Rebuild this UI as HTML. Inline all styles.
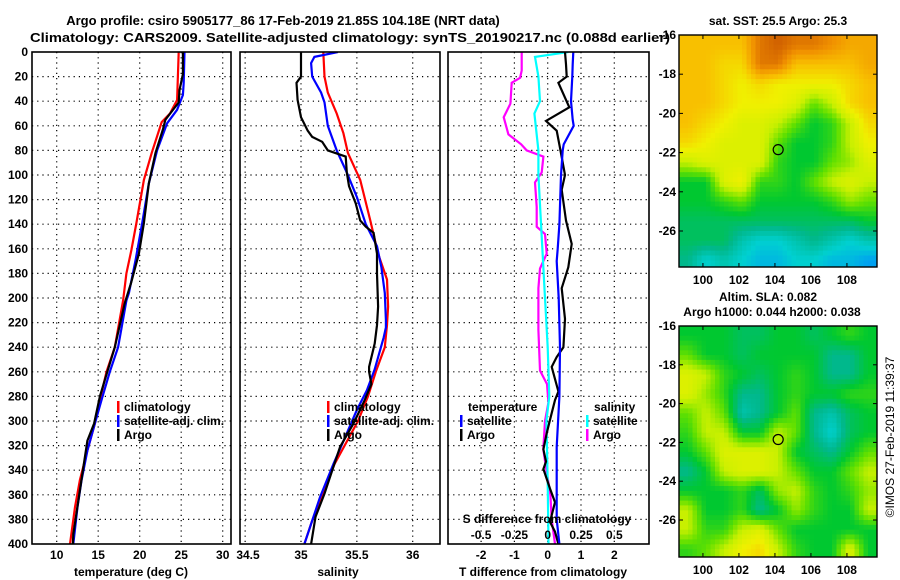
<!DOCTYPE html>
<html><head><meta charset="utf-8"><style>
html,body{margin:0;padding:0;background:#fff;}
svg{display:block;font-family:"Liberation Sans",sans-serif;font-weight:bold;}
</style></head><body>
<svg id="chart" width="900" height="580" viewBox="0 0 900 580" xmlns="http://www.w3.org/2000/svg">
<text x="283" y="25" text-anchor="middle" font-size="13">Argo profile: csiro 5905177_86 17-Feb-2019 21.85S 104.18E (NRT data)</text>
<text x="30" y="42" font-size="13" textLength="640" lengthAdjust="spacingAndGlyphs">Climatology: CARS2009. Satellite-adjusted climatology: synTS_20190217.nc (0.088d earlier)</text>
<text x="778" y="25" text-anchor="middle" font-size="12">sat. SST: 25.5 Argo: 25.3</text>
<text x="768" y="301" text-anchor="middle" font-size="12">Altim. SLA: 0.082</text>
<text x="772" y="316" text-anchor="middle" font-size="12">Argo h1000: 0.044 h2000: 0.038</text>
<text transform="translate(894,437) rotate(-90)" text-anchor="middle" font-size="12" font-weight="normal">©IMOS 27-Feb-2019 11:39:37</text>
<g id="plots"></g>
</svg>
<script>
// ---- temperature panel data ----
const tDepthClim = [0,39,50,57,82,104,139,161,180,202,240,260,283,302,324,348,370,400];
const tClim = [24.7,24.5,23.65,22.65,21.45,20.5,19.6,19.0,18.4,18.0,17.0,16.0,15.2,14.6,13.7,12.8,12.2,11.6];
const tDepthSat = [0,25,35,47,58,80,107,139,169,196,202,240,260,283,302,324,348,370,400];
const tSat = [25.4,25.3,25.2,24.5,23.3,22.1,21.1,20.3,19.5,18.7,18.4,17.4,16.4,15.4,14.6,13.7,13.0,12.5,12.0];
const tDepthArgo = [0,18,31,41,55,63,82,107,139,164,188,204,240,260,280,302,316,338,365,392,400];
const tArgo = [25.2,25.2,24.8,24.7,23.1,22.8,21.9,21.1,20.5,19.9,18.95,18.2,17.0,16.1,15.2,14.5,13.7,13.2,12.6,12.0,11.95];
const tTicks = [10,15,20,25,30];
// ---- salinity panel data ----
const sDepthClim = [0,20,33,50,66,82,104,137,164,185,207,222,240,260,280,300,335,362,381,400];
const sClim = [35.2,35.21,35.24,35.32,35.38,35.42,35.53,35.62,35.69,35.77,35.78,35.77,35.75,35.67,35.6,35.51,35.3,35.18,35.1,35.03];
const sDepthSat = [0,4,9,20,33,41,60,80,98,118,140,158,175,196,218,224,232,258,275,291,310,335,362,381,400];
const sSat = [35.33,35.12,35.09,35.1,35.18,35.21,35.24,35.32,35.41,35.5,35.58,35.68,35.72,35.75,35.76,35.76,35.74,35.66,35.59,35.5,35.41,35.29,35.17,35.1,35.03];
const sDepthArgo = [0,20,25,39,53,64,69,73,80,85,98,109,123,137,142,147,164,180,207,222,237,256,260,270,283,302,321,340,359,378,400];
const sArgo = [35.0,35.0,34.96,34.97,35.0,35.06,35.1,35.19,35.24,35.4,35.41,35.43,35.49,35.53,35.58,35.65,35.68,35.68,35.69,35.68,35.66,35.61,35.61,35.63,35.57,35.47,35.35,35.28,35.21,35.13,35.09];
const sTicks = [34.5,35,35.5,36];
const sTickLabels = ["34.5","35","35.5","36"];
// ---- difference panel data ----
const dDepthSatT = [0,10,20,40,55,60,75,80,100,140,160,170,200,240,280,321,380,400];
const dSatT = [0.77,0.75,0.74,0.70,0.75,0.78,0.48,0.45,0.40,0.35,0.30,0.27,0.33,0.37,0.35,0.27,0.27,0.35];
const dDepthArgoT = [0,10,20,25,45,56,64,78,100,112,137,156,175,192,217,240,248,256,276,283,299,310,323,333,339,355,366,382,390,400];
const dArgoT = [0.52,0.55,0.57,0.32,0.65,-0.05,0.27,0.37,0.52,0.42,0.55,0.72,0.62,0.42,0.52,0.47,0.27,0.12,0.32,0.22,0.07,-0.03,-0.13,-0.05,-0.13,0.07,0.22,0.07,0.22,0.32];
const dDepthSatS = [0,4,20,40,50,80,100,150,200,240,280,300,350,400];
const dSatS = [0.155,-0.095,-0.07,-0.058,-0.1,-0.07,-0.07,-0.045,-0.02,0,0.012,-0.01,0,0.006];
const dDepthArgoS = [0,15,21,25,42,53,67,75,80,85,98,106,126,142,148,164,176,192,226,259,270,285,300,323,340,360,380,400];
const dArgoS = [-0.195,-0.195,-0.2075,-0.27,-0.28,-0.33,-0.295,-0.2,-0.1575,-0.0325,-0.045,-0.095,-0.0825,-0.0825,-0.02,-0.0075,-0.0575,-0.07,-0.07,-0.0575,-0.005,0.005,-0.02,-0.033,-0.01,0.02,0.03,0.055];
const dTTicks = [-2,-1,0,1,2];
const dSTicks = [-0.5,-0.25,0,0.25,0.5];
const dSTickLabels = ["-0.5","-0.25","0","0.25","0.5"];
const depthTicks = [0,20,40,60,80,100,120,140,160,180,200,220,240,260,280,300,320,340,360,380,400];
// ---- maps data (colour index 0=blue .. 10=dark orange) ----
const mapLons = [98.67,99.67,100.67,101.67,102.67,103.67,104.67,105.67,106.67,107.67,108.67];
const mapLats = [-16,-17,-18,-19,-20,-21,-22,-23,-24,-25,-26,-27];
const sstGrid = [
[8,8,8,8,9.5,10,9.5,9.5,9,8.5,8.5],
[8,8,7.5,7.5,9.5,9.5,8,8,8,8,8.5],
[8,8,7.5,7,7.5,7,7,7,7,7.5,8],
[8,8,7.5,7,7,7,6.5,5,6,7.5,8],
[8,7.5,7,6.5,6.5,6,5,4,4.5,6,7.5],
[7.5,7,6.5,6.5,6.5,5,4,4,4.5,6,7],
[6,6.5,6.5,6.5,6.5,4.5,4,4,5,5.5,6.5],
[4,4,6.5,7,4.5,4.5,4,5,6,6.5,6],
[4,4,4.5,5,4,4,4,4,4.5,5.5,5],
[3.5,3.5,3.5,3.5,3.5,3.5,3.5,3.5,3.5,3.5,4],
[3.5,3.5,3.5,2.5,2,2,2.5,3,2.5,2,2.5],
[3,2,2.5,2,1.5,1.5,2,2,1.5,1.5,1]];
const slaGrid = [
[4,4,4,3.5,3.5,4,4,3.5,4,4.5,4],
[5,4,4,3.5,4,4,4,4,3,3,4],
[6.5,6,4.5,4,3.5,4,4.5,4,3,3,4],
[6.5,5.5,4.5,3,3,4,4.5,4,4,4.5,4.5],
[5,6,5,2.5,3,4,5,3,2.5,3.5,4],
[4.5,6,6,4,4,6,5,3,2,3.5,4],
[4,5,6.5,6.5,6.5,6,4,3.5,3,4,5],
[3,4,6,6.5,6.5,6,5,4,4,5,6],
[4,4,4,4.5,3.5,5.5,6,4.5,4,4.5,5.5],
[6,4,4,4.5,3,4,5.5,4.5,4,4,6],
[6,4.5,4.5,6,6.5,5,4,4,4,4,4],
[4.5,5,6,7,7.5,6,4.5,4,4,6.5,4]];
const argoLon = 104.18, argoLat = -21.85;
const lonTicks = [100,102,104,106,108];
const latTicks = [-16,-18,-20,-22,-24,-26];

const NS = "http://www.w3.org/2000/svg";
const root = document.getElementById('plots');
function mk(tag, attrs, parent){const e=document.createElementNS(NS,tag);for(const k in attrs)e.setAttribute(k,attrs[k]);(parent||root).appendChild(e);return e;}
const yD = d => 52 + d*1.23;
const xT = v => 56.7 + (v-10)*8.3;
const xS = v => 301 + (v-35)*111.7;
const xDT = v => 547.7 + v*33.3;
const xDS = v => 547.7 + v*4*33.3;

function panel(name,x0,x1,xs,ticks,clipId){
  const g = mk('g',{});
  
  
  const cp = mk('clipPath',{id:clipId},g); mk('rect',{x:x0,y:52,width:x1-x0,height:492},cp);
  depthTicks.forEach(d=>{ if(d>0&&d<400){const l=mk('line',{x1:x0,x2:x1,y1:yD(d),y2:yD(d),stroke:'#000','stroke-width':1.2,'stroke-dasharray':'1.2 4'},g);
     }});
  ticks.forEach(v=>{const x=xs(v); if(x>x0+2&&x<x1-2){const l=mk('line',{x1:x,x2:x,y1:52,y2:544,stroke:'#000','stroke-width':1.2,'stroke-dasharray':'1.2 4'},g);
     }});
  return g;
}
function frame(name,x0,x1){const r=mk('rect',{x:x0,y:52,width:x1-x0,height:492,fill:'none',stroke:'#000','stroke-width':1.6});
   }
function series(g,name,depths,vals,xs,color,clipId){
  const pts = depths.map((d,i)=>xs(vals[i]).toFixed(1)+','+yD(d).toFixed(1)).join(' ');
  const p = mk('polyline',{points:pts,fill:'none',stroke:color,'stroke-width':2.2,'stroke-linejoin':'miter','clip-path':'url(#'+clipId+')'},g);
  
  
}
function txt(name,x,y,s,anchor,size){const t=mk('text',{x:x,y:y,'text-anchor':anchor||'start','font-size':size||12});t.textContent=s;
    return t;}
function legend(name,x,y,color,label){const b=mk('rect',{x:x,y:y-10,width:2.5,height:12,fill:color});
   
  txt(name,x+7,y,label);}

depthTicks.forEach(d=>txt('y-tick-label',28,yD(d)+4,String(d),'end'));

let g1 = panel('temperature-panel',32,231,xT,tTicks,'c1');
series(g1,'temp-climatology-line',tDepthClim,tClim,xT,'#ff0000','c1');
series(g1,'temp-satellite-adj-line',tDepthSat,tSat,xT,'#0000ff','c1');
series(g1,'temp-argo-line',tDepthArgo,tArgo,xT,'#000000','c1');
frame('temperature-axes',32,231);
tTicks.forEach(v=>txt('x-tick-label',xT(v),559,String(v),'middle'));
txt('x-axis-title-temperature',131,576,'temperature (deg C)','middle');
legend('legend-climatology',117,411,'#ff0000','climatology');
legend('legend-satellite-adj',117,425,'#0000ff','satellite-adj. clim.');
legend('legend-argo',117,439,'#000000','Argo');

let g2 = panel('salinity-panel',240,440,xS,sTicks,'c2');
series(g2,'sal-climatology-line',sDepthClim,sClim,xS,'#ff0000','c2');
series(g2,'sal-satellite-adj-line',sDepthSat,sSat,xS,'#0000ff','c2');
series(g2,'sal-argo-line',sDepthArgo,sArgo,xS,'#000000','c2');
frame('salinity-axes',240,440);
sTicks.forEach((v,i)=>txt('x-tick-label',i===0?248:xS(v),559,sTickLabels[i],'middle'));
txt('x-axis-title-salinity',338,576,'salinity','middle');
legend('legend-climatology-s',327,411,'#ff0000','climatology');
legend('legend-satellite-adj-s',327,425,'#0000ff','satellite-adj. clim.');
legend('legend-argo-s',327,439,'#000000','Argo');

let g3 = panel('difference-panel',448,649,xDT,dTTicks,'c3');
series(g3,'sdiff-argo-line',dDepthArgoS,dArgoS,xDS,'#ff00ff','c3');
series(g3,'sdiff-satellite-line',dDepthSatS,dSatS,xDS,'#00ffff','c3');
series(g3,'tdiff-argo-line',dDepthArgoT,dArgoT,xDT,'#000000','c3');
series(g3,'tdiff-satellite-line',dDepthSatT,dSatT,xDT,'#0000ff','c3');
frame('difference-axes',448,649);
dTTicks.forEach(v=>txt('x-tick-label',xDT(v),559,String(v),'middle'));
txt('x-axis-title-tdiff',543,576,'T difference from climatology','middle');
txt('s-axis-title',547,523,'S difference from climatology','middle');
dSTicks.forEach((v,i)=>txt('s-tick-label',xDS(v),539,dSTickLabels[i],'middle'));
txt('legend-title-temperature',468,411,'temperature');
legend('legend-t-satellite',460,425,'#0000ff','satellite');
legend('legend-t-argo',460,439,'#000000','Argo');
txt('legend-title-salinity',594,411,'salinity');
legend('legend-s-satellite',586,425,'#00ffff','satellite');
legend('legend-s-argo',586,439,'#ff00ff','Argo');

const cstops = [[0,128,255],[0,160,240],[0,208,208],[0,184,140],[0,200,48],[96,224,0],[200,240,0],[240,240,0],[248,192,0],[240,144,0],[208,96,0]];
function cmap(v){v=Math.max(0,Math.min(10,v));const i=Math.min(9,Math.floor(v)),f=v-i;const a=cstops[i],b=cstops[i+1];
  return 'rgb('+a.map((c,k)=>Math.round(c+(b[k]-c)*f)).join(',')+')';}

function drawMap(name,grid,top,bot,pxLat,sub){
  const x0=679,x1=877,pxLon=18;
  const xL = lon => x0 + (lon-98.67)*pxLon;
  const yL = lat => top + (-16-lat)*pxLat;
  const g = mk('g',{});
  
  
  const cid='clip-'+name; const cp=mk('clipPath',{id:cid},g); mk('rect',{x:x0,y:top,width:x1-x0,height:bot-top},cp);
  const cells = mk('g',{'clip-path':'url(#'+cid+')'},g);
  const R=grid.length,C=grid[0].length;
  function val(r,c){
    const rr=Math.max(0,Math.min(R-1,r)),cc=Math.max(0,Math.min(C-1,c));
    const r0=Math.floor(rr),c0=Math.floor(cc),r1=Math.min(R-1,r0+1),c1=Math.min(C-1,c0+1),fr=rr-r0,fc=cc-c0;
    return grid[r0][c0]*(1-fr)*(1-fc)+grid[r0][c1]*(1-fr)*fc+grid[r1][c0]*fr*(1-fc)+grid[r1][c1]*fr*fc;}
  for(let r=0;r<R;r++)for(let c=0;c<C;c++){
    for(let a=0;a<sub;a++)for(let b=0;b<sub;b++){
      const v = sub===1?grid[r][c]:val(r+(a+0.5)/sub-0.5,c+(b+0.5)/sub-0.5);
      const lon=mapLons[c]+b/sub, lat=mapLats[r]-a/sub;
      const x=xL(lon), y=yL(lat), w=pxLon/sub+0.5, h=pxLat/sub+0.5;
      const rc=mk('rect',{x:x.toFixed(1),y:y.toFixed(1),width:w.toFixed(1),height:h.toFixed(1),fill:cmap(v)},cells);
      
      
    }
  }
  const fr=mk('rect',{x:x0,y:top,width:x1-x0,height:bot-top,fill:'none',stroke:'#000','stroke-width':1.4},g);
   
  lonTicks.forEach(l=>{const x=xL(l);mk('line',{x1:x,x2:x,y1:bot,y2:bot-4,stroke:'#000'},g);mk('line',{x1:x,x2:x,y1:top,y2:top+4,stroke:'#000'},g);
    txt('map-lon-label',x,bot+17,String(l),'middle');});
  latTicks.forEach(l=>{const y=yL(l);mk('line',{x1:x0,x2:x0+4,y1:y,y2:y,stroke:'#000'},g);mk('line',{x1:x1,x2:x1-4,y1:y,y2:y,stroke:'#000'},g);
    txt('map-lat-label',x0-3,y+4,String(l),'end');});
  const m=mk('circle',{cx:xL(argoLon),cy:yL(argoLat),r:5,fill:'none',stroke:'#000','stroke-width':1.2},g);
   
}
drawMap('sst-map',sstGrid,35,267,19.6,4);
drawMap('sla-map',slaGrid,326,557,19.4,4);
</script>
</body></html>
